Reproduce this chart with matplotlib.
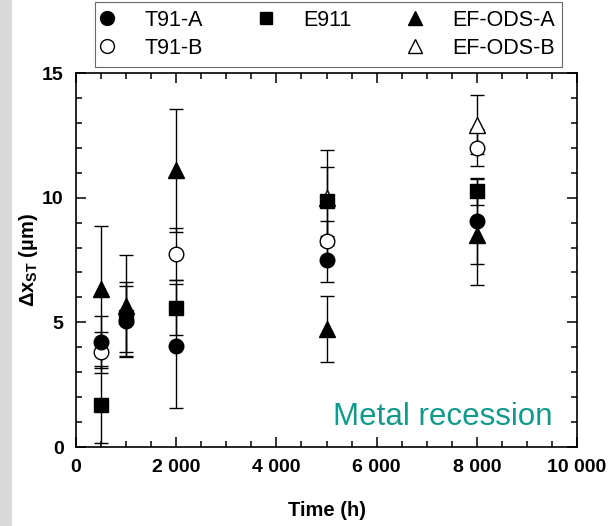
import matplotlib.pyplot as plt
from matplotlib.lines import Line2D
from matplotlib.patches import Rectangle
from matplotlib.ticker import MultipleLocator, FuncFormatter

plt.rcParams['font.family'] = ['Liberation Sans', 'DejaVu Sans']
plt.rcParams['mathtext.fontset'] = 'custom'
plt.rcParams['mathtext.rm'] = 'Liberation Sans'
plt.rcParams['mathtext.bf'] = 'Liberation Sans:bold'

# data (time in h, recession in um)
t91a_time = [500, 1000, 2000, 5000, 8000]
t91a_val = [4.2, 5.05, 4.05, 7.5, 9.05]
t91a_err = [1.05, 1.4, 2.5, 0.88, 1.7]

t91b_time = [500, 2000, 5000, 8000]
t91b_val = [3.8, 7.75, 8.25, 12.0]
t91b_err = [0.82, 1.05, 0.8, 0.74]

e911_time = [500, 1000, 2000, 5000, 8000]
e911_val = [1.7, 5.2, 5.58, 9.85, 10.25]
e911_err = [1.55, 1.4, 1.1, 1.37, 0.55]

efa_time = [500, 1000, 2000, 5000, 8000]
efa_val = [6.35, 5.65, 11.1, 4.72, 8.5]
efa_err = [2.5, 2.05, 2.47, 1.32, 2.0]

efb_time = [5000, 8000]
efb_val = [10.0, 12.93]
efb_err = [1.9, 1.17]

fig = plt.figure(figsize=(6.08, 5.26), dpi=100)
fig.patches.append(Rectangle((0, 0), 12 / 608, 1, transform=fig.transFigure,
                             facecolor='#d9d9d9', edgecolor='none', zorder=0))
ax = fig.add_axes([76 / 608, 1 - 447 / 526, 501 / 608, 374 / 526])

common = dict(linestyle='none', ecolor='black', elinewidth=1.0, capsize=5,
              capthick=1.0, markeredgecolor='black', markeredgewidth=1.0)

h_efb = ax.errorbar(efb_time, efb_val, yerr=efb_err, marker='^', markersize=11,
                    markerfacecolor='white', **common)
h_efa = ax.errorbar(efa_time, efa_val, yerr=efa_err, marker='^', markersize=11,
                    markerfacecolor='black', **common)
h_t91b = ax.errorbar(t91b_time, t91b_val, yerr=t91b_err, marker='o', markersize=10.5,
                     markerfacecolor='white', **common)
h_e911 = ax.errorbar(e911_time, e911_val, yerr=e911_err, marker='s', markersize=9.5,
                     markerfacecolor='black', **common)
h_t91a = ax.errorbar(t91a_time, t91a_val, yerr=t91a_err, marker='o', markersize=10.5,
                     markerfacecolor='black', **common)

ax.set_xlim(0, 10000)
ax.set_ylim(0, 15)
ax.xaxis.set_major_locator(MultipleLocator(2000))
ax.xaxis.set_minor_locator(MultipleLocator(500))
ax.yaxis.set_major_locator(MultipleLocator(5))
ax.yaxis.set_minor_locator(MultipleLocator(1))
ax.xaxis.set_major_formatter(FuncFormatter(lambda v, p: f'{int(v):,}'.replace(',', ' ')))

ax.tick_params(which='both', direction='in', top=True, right=True, width=1.1)
ax.tick_params(which='major', length=7, labelsize=14, pad=9)
ax.tick_params(which='minor', length=4)
for lab in ax.get_xticklabels() + ax.get_yticklabels():
    lab.set_fontweight('bold')
for s in ax.spines.values():
    s.set_linewidth(1.2)

ax.set_xlabel('Time (h)', fontsize=14.5, fontweight='bold', labelpad=18)
ax.set_ylabel(r'$\mathbf{Δx_{ST}}$ (µm)', fontsize=14.5, fontweight='bold')
ax.yaxis.set_label_coords(-0.072, 0.5)

ax.text(9520, 0.88, 'Metal recession', color='#12998a', fontsize=22.5,
        ha='right', va='baseline')

blank = Line2D([], [], linestyle='none', marker='none')
handles = [h_t91a, h_t91b, h_e911, blank, h_efa, h_efb]
labels = ['T91-A', 'T91-B', 'E911', '', 'EF-ODS-A', 'EF-ODS-B']
leg_handles = []
for h in handles:
    if h is blank:
        leg_handles.append(h)
    else:
        ln = h[0]
        leg_handles.append(Line2D([], [], linestyle='none', marker=ln.get_marker(),
                                  markersize=ln.get_markersize() * 0.95,
                                  markerfacecolor=ln.get_markerfacecolor(),
                                  markeredgecolor='black'))
leg = fig.legend(leg_handles, labels, ncol=3, loc='upper left',
                 bbox_to_anchor=(95 / 608, 1 - 2 / 526), fontsize=15.5,
                 frameon=True, fancybox=False, edgecolor='#444444',
                 handletextpad=1.52, columnspacing=2.75, borderpad=0.36,
                 borderaxespad=0, labelspacing=0.33, handlelength=0.4)
leg.get_frame().set_linewidth(0.8)

fig.savefig('out.png', dpi=100)
